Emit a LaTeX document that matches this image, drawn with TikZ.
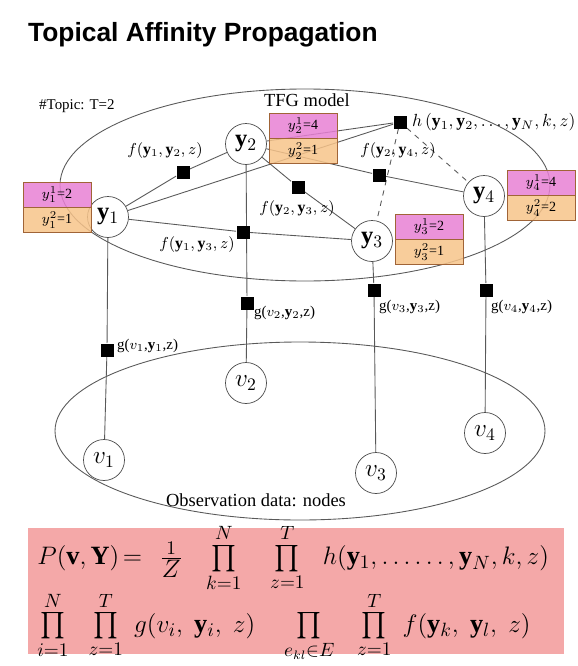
\documentclass[tikz,border=0pt]{standalone}
\usepackage{amsmath,amssymb}
\usepackage{fontspec}
\setmainfont{Liberation Serif}
\newfontfamily\titlefont{Liberation Sans}
\usepackage{tikz}
\usetikzlibrary{backgrounds,positioning}

\definecolor{lblpink}{RGB}{232,128,212}
\definecolor{lblorange}{RGB}{247,196,138}
\definecolor{boxline}{RGB}{160,100,55}
\definecolor{eqpink}{RGB}{244,168,168}

\begin{document}
\begin{tikzpicture}[
  x=0.02cm,y=-0.02cm,
  ynd/.style={circle,draw=black!70,fill=white,inner sep=0pt,minimum size=8.2mm,font=\fontsize{14}{16}\selectfont},
  fac/.style={rectangle,fill=black,inner sep=0pt,minimum size=2.6mm},
  flab/.style={font=\fontsize{9}{10}\selectfont,inner sep=1pt},
  glab/.style={font=\fontsize{8.5}{10}\selectfont,anchor=west,inner sep=1pt},
  lnk/.style={draw=black!65,line width=0.5pt},
  topbox/.style={rectangle,draw=boxline,fill=lblpink,fill opacity=0.85,text opacity=1,
    minimum width=1.36cm,minimum height=0.5cm,inner sep=0pt,font=\fontsize{8}{9}\selectfont},
  botbox/.style={topbox,fill=lblorange},
  eqline/.style={anchor=west,inner sep=0pt,font=\fontsize{15}{18}\selectfont}
]
  \useasboundingbox (0,0) rectangle (578,666);

  \node[anchor=west,font=\titlefont\bfseries\fontsize{15}{18}\selectfont] (title) at (22,35) {Topical Affinity Propagation};
  \node[anchor=west,font=\fontsize{8.5}{10}\selectfont] (topic) at (33,106) {\#Topic: T=2};
  \node[font=\fontsize{10.5}{12}\selectfont] (tfg) at (307,100) {TFG model};

  % latent variables
  \node[ynd] (y1) at (108,217) {$\mathbf{y}_1$};
  \node[ynd] (y2) at (246,144) {$\mathbf{y}_2$};
  \node[ynd] (y3) at (372,241) {$\mathbf{y}_3$};
  \node[ynd] (y4) at (484,196) {$\mathbf{y}_4$};

  % observed nodes
  \node[ynd] (v1) at (104,460) {$v_1$};
  \node[ynd] (v2) at (246,383) {$v_2$};
  \node[ynd] (v3) at (376,473) {$v_3$};
  \node[ynd] (v4) at (485,433) {$v_4$};

  % factors
  \node[fac] (f12) at (183,172) {};
  \node[fac] (f13) at (243,232) {};
  \node[fac] (f23) at (298,187) {};
  \node[fac] (f24) at (379,175) {};
  \node[fac] (h)   at (400,122) {};
  \node[fac] (g1)  at (107,350) {};
  \node[fac] (g2)  at (247,303) {};
  \node[fac] (g3)  at (374,290) {};
  \node[fac] (g4)  at (486,290) {};

  \node[flab] (lf12) at (165,151) {$f(\mathbf{y}_1,\mathbf{y}_2,z)$};
  \node[flab] (lf13) at (197,245) {$f(\mathbf{y}_1,\mathbf{y}_3,z)$};
  \node[flab] (lf23) at (297,209) {$f(\mathbf{y}_2,\mathbf{y}_3,z)$};
  \node[flab] (lf24) at (398,151) {$f(\mathbf{y}_2,\mathbf{y}_4,z)$};
  \node[flab,anchor=west,font=\fontsize{10}{12}\selectfont] (lh) at (410,122) {$h\,(\mathbf{y}_1,\mathbf{y}_2,\ldots,\mathbf{y}_N,k,z)$};
  \node[glab] (lg1) at (115,346) {g($v_1$,$\mathbf{y}_1$,z)};
  \node[glab] (lg2) at (252,313) {g($v_2$,$\mathbf{y}_2$,z)};
  \node[glab] (lg3) at (377,307) {g($v_3$,$\mathbf{y}_3$,z)};
  \node[glab] (lg4) at (489,307) {g($v_4$,$\mathbf{y}_4$,z)};

  % topic labels
  \node[topbox] (b1t) at (57,194.5) {$y_1^1$=2};
  \node[botbox,below=0pt of b1t] (b1b) {$y_1^2$=1};
  \node[topbox] (b2t) at (303,125.5) {$y_2^1$=4};
  \node[botbox,below=0pt of b2t] (b2b) {$y_2^2$=1};
  \node[topbox] (b3t) at (429,226.5) {$y_3^1$=2};
  \node[botbox,below=0pt of b3t] (b3b) {$y_3^2$=1};
  \node[topbox] (b4t) at (541,182.5) {$y_4^1$=4};
  \node[botbox,below=0pt of b4t] (b4b) {$y_4^2$=2};

  \node[font=\fontsize{10.5}{12}\selectfont] (obs) at (256,500) {Observation data: nodes};

  \begin{scope}[on background layer]
    \draw[lnk] (305,185) ellipse [x radius=245,y radius=96];
    \draw[lnk] (300,431) ellipse [x radius=245,y radius=89];
    \draw[lnk] (y1) -- (f12) -- (y2);
    \draw[lnk] (y1) -- (f13) -- (y3);
    \draw[lnk] (y2) -- (f23) -- (y3);
    \draw[lnk] (y2) -- (f24) -- (y4);
    \draw[lnk] (y1) -- (h);
    \draw[lnk] (y2) -- (h);
    \draw[lnk,dashed] (h) -- (y3);
    \draw[lnk,dashed] (h) -- (y4);
    \draw[lnk] (y1) -- (g1) -- (v1);
    \draw[lnk] (y2) -- (g2) -- (v2);
    \draw[lnk] (y3) -- (g3) -- (v3);
    \draw[lnk] (y4) -- (g4) -- (v4);
  \end{scope}

  % joint probability
  \node[fill=eqpink,minimum width=10.72cm,minimum height=2.54cm,inner sep=0pt] (eqbox) at (296,591) {};
  \node[eqline] (eq1) at (37,558)
    {$P(\mathbf{v},\mathbf{Y})\hspace{2pt}{=}\hspace{10pt}\frac{1}{\textstyle Z}\hspace{11pt}\prod\limits_{k=1}^{N}\hspace{14pt}\prod\limits_{z=1}^{T}\hspace{8pt}h(\mathbf{y}_1,\ldots\ldots,\mathbf{y}_N,k,z)$};
  \node[eqline] (eq2) at (37,627)
    {$\prod\limits_{i=1}^{N}\hspace{9pt}\prod\limits_{z=1}^{T}\hspace{4pt}g(v_i,\;\mathbf{y}_i,\;z)\hspace{14pt}\prod\limits_{e_{kl}\in E}\hspace{10.5pt}\prod\limits_{z=1}^{T}\hspace{4pt}f(\mathbf{y}_k,\;\mathbf{y}_l,\;z)$};
\end{tikzpicture}
\end{document}
